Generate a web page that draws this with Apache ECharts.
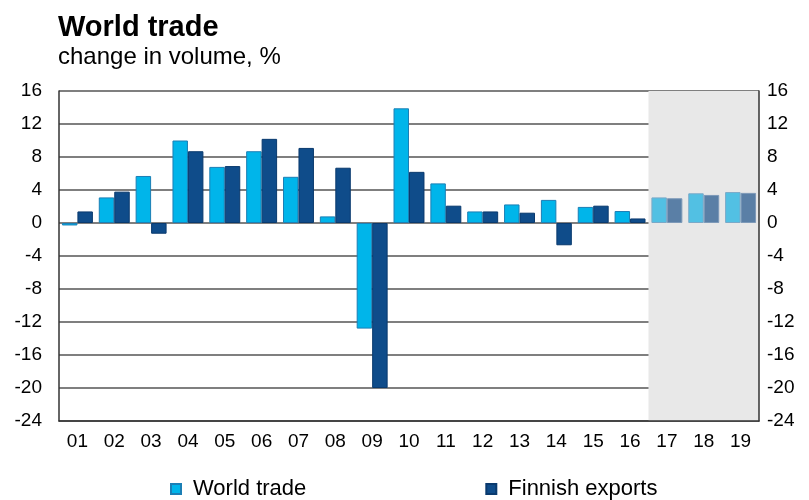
<!DOCTYPE html>
<html>
<head>
<meta charset="utf-8">
<script src="https://cdn.jsdelivr.net/npm/echarts@6/dist/echarts.min.js"></script>
<style>
html,body{margin:0;padding:0;background:#fff;}
#chart{width:809px;height:500px;}
</style>
</head>
<body>
<div id="chart"></div>
<script>
// 年份（两位数）
var years = ['01','02','03','04','05','06','07','08','09','10','11','12','13','14','15','16','17','18','19'];
var worldTrade = [-0.3, 3.1, 5.7, 10.0, 6.8, 8.7, 5.6, 0.8, -12.8, 13.9, 4.8, 1.4, 2.25, 2.8, 1.95, 1.45, 3.1, 3.6, 3.75];
var finnishExports = [1.4, 3.8, -1.3, 8.7, 6.9, 10.2, 9.1, 6.7, -20.0, 6.2, 2.1, 1.4, 1.25, -2.7, 2.1, 0.55, 3.0, 3.4, 3.65];
var forecastFrom = 16; // 17 起为预测
var yTicks = [-24, -20, -16, -12, -8, -4, 0, 4, 8, 12, 16];

var chart = echarts.init(document.getElementById('chart'));

function toItems(arr, fc, fcBorder){
    return arr.map(function(v, i){
        if (i < forecastFrom) return v;
        return {value: v, itemStyle: {color: fc, borderColor: fcBorder}};
    });
}

var bandColors = years.map(function(y, i){
    return i < forecastFrom ? 'rgba(255,255,255,0)' : '#e8e8e8';
});

var yAxisBase = {
    type: 'value',
    min: yTicks[0],
    max: yTicks[yTicks.length - 1],
    interval: 4,
    axisLine: {show: true, lineStyle: {color: '#333', width: 1.5}},
    axisTick: {show: false},
    axisLabel: {color: '#000', fontSize: 19, fontFamily: 'Liberation Sans, Arial'}
};

var option = {
    animation: false,
    textStyle: {fontFamily: 'Liberation Sans, Arial'},
    title: {
        text: 'World trade',
        subtext: 'change in volume, %',
        left: 53,
        top: 8,
        itemGap: 3,
        textStyle: {fontSize: 29, fontWeight: 'bold', color: '#000', fontFamily: 'Liberation Sans, Arial'},
        subtextStyle: {fontSize: 24, color: '#000', fontFamily: 'Liberation Sans, Arial'}
    },
    grid: {left: 59, right: 50, top: 91, bottom: 79},
    legend: {
        top: 473,
        left: 165,
        itemGap: 179,
        itemWidth: 10,
        itemHeight: 10,
        icon: 'rect',
        textStyle: {fontSize: 22, color: '#000', padding: [0, 0, 0, 7], fontFamily: 'Liberation Sans, Arial'},
        data: ['World trade', 'Finnish exports']
    },
    xAxis: {
        type: 'category',
        data: years,
        axisLine: {show: true, onZero: false, lineStyle: {color: '#333', width: 1.5}},
        axisTick: {show: false},
        axisLabel: {color: '#000', fontSize: 19, margin: 11, interval: 0},
        splitArea: {show: true, interval: 0, areaStyle: {color: bandColors}}
    },
    yAxis: [
        Object.assign({}, yAxisBase, {
            position: 'left',
            axisLabel: Object.assign({}, yAxisBase.axisLabel, {margin: 17}),
            splitLine: {show: true, lineStyle: {color: '#555', width: 1.5}}
        }),
        Object.assign({}, yAxisBase, {
            position: 'right',
            axisLabel: Object.assign({}, yAxisBase.axisLabel, {margin: 8}),
            splitLine: {show: false}
        })
    ],
    series: [
        {
            name: 'World trade',
            type: 'bar',
            barGap: '0%',
            barCategoryGap: '16%',
            itemStyle: {color: '#00b5ea', borderColor: '#1b7fb5', borderWidth: 1},
            data: toItems(worldTrade, '#52c0e3', '#7aa9c8')
        },
        {
            name: 'Finnish exports',
            type: 'bar',
            itemStyle: {color: '#0f4c8a', borderColor: '#0a3a6e', borderWidth: 1},
            data: toItems(finnishExports, '#5a7fa6', '#7d99b8')
        }
    ]
};

chart.setOption(option);
</script>
</body>
</html>
